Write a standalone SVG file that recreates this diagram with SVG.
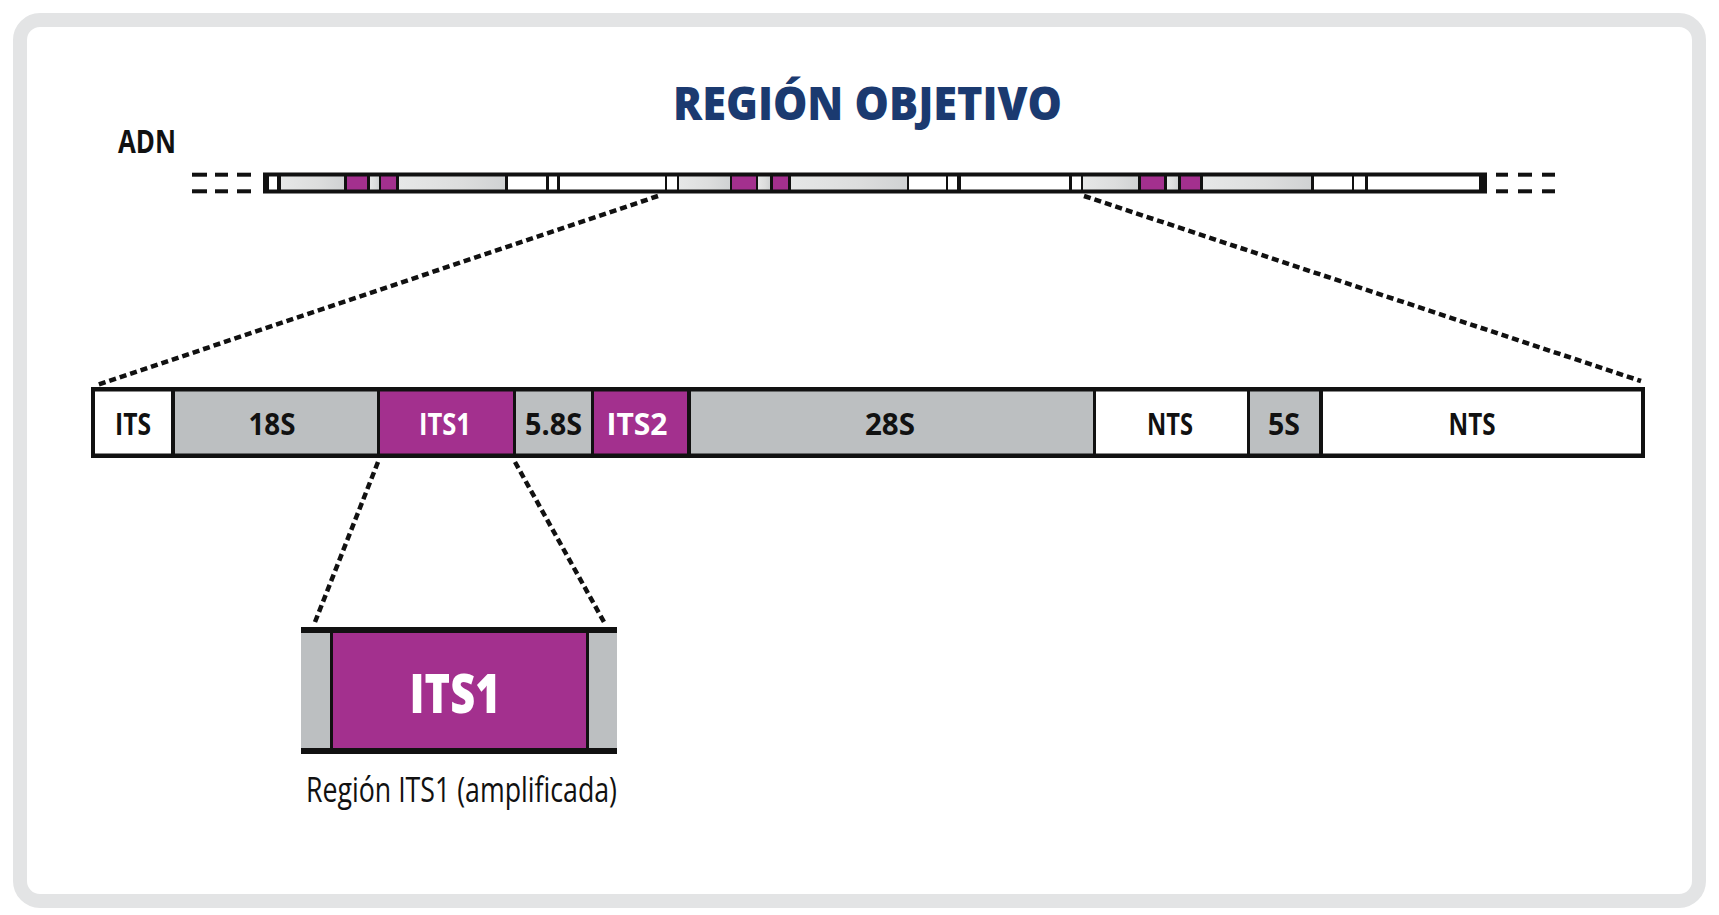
<svg xmlns="http://www.w3.org/2000/svg" width="1719" height="915" viewBox="0 0 1719 915">
<defs>
<linearGradient id="lg" x1="0" y1="0" x2="1" y2="0">
<stop offset="0" stop-color="#e6e7e7"/>
<stop offset="0.6" stop-color="#dcdddd"/>
<stop offset="1" stop-color="#d0d2d3"/>
</linearGradient>
<style>
.lbl{font-family:"Open Sans","Liberation Sans",sans-serif;font-weight:700;font-size:31px;fill:#111;text-anchor:middle}
.w{fill:#fff}
.mag{fill:#a3308e}
.gry{fill:#bcbfc1}
.wht{fill:#fff}
.dg{fill:url(#lg)}
.dot{fill:none;stroke:#111;stroke-width:4.5;stroke-dasharray:7 4}
.dash{fill:#111}
</style>
</defs>
<rect x="0" y="0" width="1719" height="915" fill="#fff"/>
<rect x="20" y="20" width="1679" height="881" rx="20" fill="#fff" stroke="#e3e4e5" stroke-width="14"/>

<g id="title">
<text x="673" y="120" textLength="389" lengthAdjust="spacingAndGlyphs" style="font-family:'Open Sans','Liberation Sans',sans-serif;font-weight:800;font-size:46px;fill:#1b3a70">REGIÓN OBJETIVO</text>
</g>
<g id="adn-label">
<text x="118" y="153" textLength="58" lengthAdjust="spacingAndGlyphs" style="font-family:'Open Sans','Liberation Sans',sans-serif;font-weight:700;font-size:33px;fill:#111">ADN</text>
</g>

<g id="adn-strand">
<rect class="dash" x="192" y="172.7" width="15" height="4"/>
<rect class="dash" x="215" y="172.7" width="13" height="4"/>
<rect class="dash" x="237" y="172.7" width="14" height="4"/>
<rect class="dash" x="192" y="189.3" width="15" height="4"/>
<rect class="dash" x="215" y="189.3" width="13" height="4"/>
<rect class="dash" x="237" y="189.3" width="14" height="4"/>
<rect class="dash" x="1496" y="172.7" width="12" height="4"/>
<rect class="dash" x="1518" y="172.7" width="14" height="4"/>
<rect class="dash" x="1542" y="172.7" width="13" height="4"/>
<rect class="dash" x="1496" y="189.3" width="12" height="4"/>
<rect class="dash" x="1518" y="189.3" width="14" height="4"/>
<rect class="dash" x="1542" y="189.3" width="13" height="4"/>
<rect x="263" y="172.5" width="1224" height="21" fill="#111"/>
<g transform="translate(0,176.5)">
<rect class="wht" x="269" y="0" width="8" height="13"/>
<rect class="dg" x="281" y="0" width="63" height="13"/>
<rect class="mag" x="347" y="0" width="20" height="13"/>
<rect class="dg" x="370" y="0" width="9" height="13"/>
<rect class="mag" x="381" y="0" width="15" height="13"/>
<rect class="dg" x="399" y="0" width="106" height="13"/>
<rect class="wht" x="508" y="0" width="38" height="13"/>
<rect class="wht" x="549" y="0" width="8" height="13"/>
<rect class="wht" x="560" y="0" width="105" height="13"/>
<rect class="wht" x="667" y="0" width="10" height="13"/>
<rect class="dg" x="679" y="0" width="51" height="13"/>
<rect class="mag" x="732" y="0" width="24" height="13"/>
<rect class="dg" x="758" y="0" width="12" height="13"/>
<rect class="mag" x="773" y="0" width="15" height="13"/>
<rect class="dg" x="791" y="0" width="116" height="13"/>
<rect class="wht" x="909" y="0" width="37" height="13"/>
<rect class="wht" x="948" y="0" width="9" height="13"/>
<rect class="wht" x="961" y="0" width="108" height="13"/>
<rect class="wht" x="1072" y="0" width="9" height="13"/>
<rect class="dg" x="1083" y="0" width="55" height="13"/>
<rect class="mag" x="1141" y="0" width="23" height="13"/>
<rect class="dg" x="1167" y="0" width="11" height="13"/>
<rect class="mag" x="1181" y="0" width="19" height="13"/>
<rect class="dg" x="1203" y="0" width="108" height="13"/>
<rect class="wht" x="1314" y="0" width="38" height="13"/>
<rect class="wht" x="1354" y="0" width="11" height="13"/>
<rect class="wht" x="1368" y="0" width="111" height="13"/>
</g>
</g>

<g id="connectors">
<line class="dot" x1="658" y1="196" x2="97" y2="385"/>
<line class="dot" x1="1084" y1="196" x2="1641" y2="381"/>
<line class="dot" x1="378" y1="462" x2="315" y2="622"/>
<line class="dot" x1="515" y1="462" x2="604" y2="622"/>
</g>

<g id="rdna-unit">
<rect x="91" y="387" width="1554" height="71" fill="#111"/>
<g id="seg-its"><rect class="wht" x="95" y="391.5" width="76" height="62"/><text class="lbl" x="133" y="435" textLength="36" lengthAdjust="spacingAndGlyphs">ITS</text></g>
<g id="seg-18s"><rect class="gry" x="175" y="391.5" width="202" height="62"/><text class="lbl" x="272" y="435" textLength="47" lengthAdjust="spacingAndGlyphs">18S</text></g>
<g id="seg-its1"><rect class="mag" x="380" y="391.5" width="133" height="62"/><text class="lbl w" x="445" y="435" textLength="52" lengthAdjust="spacingAndGlyphs">ITS1</text></g>
<g id="seg-58s"><rect class="gry" x="516" y="391.5" width="75" height="62"/><text class="lbl" x="553.5" y="435" textLength="57" lengthAdjust="spacingAndGlyphs">5.8S</text></g>
<g id="seg-its2"><rect class="mag" x="594" y="391.5" width="93" height="62"/><text class="lbl w" x="637" y="435" textLength="61" lengthAdjust="spacingAndGlyphs">ITS2</text></g>
<g id="seg-28s"><rect class="gry" x="691" y="391.5" width="402" height="62"/><text class="lbl" x="890" y="435" textLength="50" lengthAdjust="spacingAndGlyphs">28S</text></g>
<g id="seg-nts1"><rect class="wht" x="1096" y="391.5" width="151" height="62"/><text class="lbl" x="1170" y="435" textLength="46" lengthAdjust="spacingAndGlyphs">NTS</text></g>
<g id="seg-5s"><rect class="gry" x="1250" y="391.5" width="69" height="62"/><text class="lbl" x="1284" y="435" textLength="32" lengthAdjust="spacingAndGlyphs">5S</text></g>
<g id="seg-nts2"><rect class="wht" x="1323" y="391.5" width="318" height="62"/><text class="lbl" x="1472" y="435" textLength="47" lengthAdjust="spacingAndGlyphs">NTS</text></g>
</g>

<g id="its1-zoom">
<rect class="gry" x="301" y="633" width="29" height="115"/>
<rect x="330" y="633" width="3" height="115" fill="#111"/>
<rect class="mag" x="333" y="633" width="253" height="115"/>
<rect x="586" y="633" width="3" height="115" fill="#111"/>
<rect class="gry" x="589" y="633" width="28" height="115"/>
<rect x="301" y="627" width="316" height="6" fill="#111"/>
<rect x="301" y="748" width="316" height="6" fill="#111"/>
<text x="455" y="713" textLength="91" lengthAdjust="spacingAndGlyphs" style="font-family:'Open Sans','Liberation Sans',sans-serif;font-weight:800;font-size:55px;fill:#fff;text-anchor:middle">ITS1</text>
</g>
<g id="caption">
<text x="306" y="802" textLength="311" lengthAdjust="spacingAndGlyphs" style="font-family:'Open Sans','Liberation Sans',sans-serif;font-weight:500;font-size:35px;fill:#111">Región ITS1 (amplificada)</text>
</g>
</svg>
